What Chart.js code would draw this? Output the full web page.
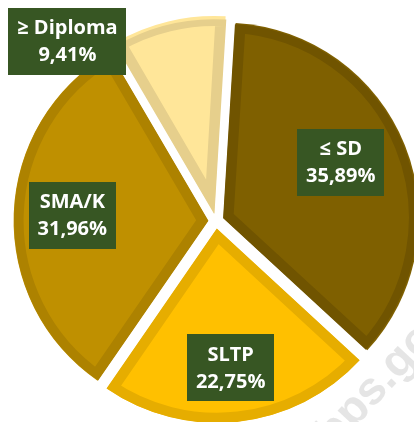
<!DOCTYPE html>
<html>
<head>
<meta charset="utf-8">
<script src="https://cdn.jsdelivr.net/npm/chart.js@4.4.1/dist/chart.umd.min.js"></script>
<style>
  html, body { margin: 0; padding: 0; background: #ffffff; }
  #wrap { position: relative; width: 414px; height: 422px; overflow: hidden; }
</style>
</head>
<body>
<div id="wrap"><canvas id="c"></canvas></div>
<script>
// ---- data ----
const categories = ['≤ SD', 'SLTP', 'SMA/K', '≥ Diploma'];
const percentages = [35.89, 22.75, 31.96, 9.41];
const valueLabels = ['35,89%', '22,75%', '31,96%', '9,41%'];

// ---- styles ----
const fillColors = ['#7f6000', '#ffc000', '#bf9000', '#ffe699'];
const borderColors = ['#705400', '#e6ad00', '#ad8200', '#e6cf8c'];
// label placement: angle shift (deg) from slice mid-angle and distance as fraction of radius
const labelPlacement = [
  { shift: -3.6, frac: 0.67 },
  { shift: 0.7, frac: 0.72 },
  { shift: 0.2, frac: 0.70 },
  { shift: -27, frac: 1.166 }
];

const watermark = {
  id: 'watermark',
  beforeDatasetsDraw(chart) {
    const ctx = chart.ctx;
    ctx.save();
    ctx.translate(334, 450);
    ctx.rotate(-47 * Math.PI / 180);
    ctx.font = 'bold 46px "Liberation Sans", Arial, sans-serif';
    ctx.fillStyle = 'rgba(170,170,170,0.3)';
    ctx.textBaseline = 'alphabetic';
    ctx.fillText('bps.go.id', 0, 0);
    ctx.restore();
  }
};

const boxLabels = {
  id: 'boxLabels',
  afterDatasetsDraw(chart) {
    const ctx = chart.ctx;
    const meta = chart.getDatasetMeta(0);
    const offset = chart.data.datasets[0].offset / 4;
    ctx.save();
    ctx.font = 'bold 20px "Open Sans", sans-serif';
    ctx.textAlign = 'center';
    ctx.textBaseline = 'middle';
    meta.data.forEach((arc, i) => {
      const p = arc.getProps(['x', 'y', 'startAngle', 'endAngle', 'outerRadius'], true);
      const mid = (p.startAngle + p.endAngle) / 2;
      const ax = p.x + Math.cos(mid) * offset;
      const ay = p.y + Math.sin(mid) * offset;
      const pl = labelPlacement[i];
      const ang = mid + pl.shift * Math.PI / 180;
      const cx = ax + Math.cos(ang) * p.outerRadius * pl.frac;
      const cy = ay + Math.sin(ang) * p.outerRadius * pl.frac;
      const l1 = categories[i], l2 = valueLabels[i];
      const w = Math.max(ctx.measureText(l1).width, ctx.measureText(l2).width) + 18;
      const h = 67;
      ctx.fillStyle = '#375623';
      ctx.fillRect(Math.round(cx - w / 2), Math.round(cy - h / 2), Math.round(w), h);
      ctx.fillStyle = '#ffffff';
      ctx.fillText(l1, cx, cy - 13);
      ctx.fillText(l2, cx, cy + 14);
    });
    ctx.restore();
  }
};

new Chart(document.getElementById('c'), {
  type: 'pie',
  data: {
    labels: categories,
    datasets: [{
      data: percentages,
      backgroundColor: fillColors,
      borderColor: borderColors,
      borderWidth: 10,
      borderAlign: 'inner',
      borderJoinStyle: 'miter',
      offset: 32,
      hoverOffset: 0
    }]
  },
  options: {
    responsive: true,
    maintainAspectRatio: false,
    animation: false,
    events: [],
    rotation: 3.5,
    radius: 194,
    layout: { padding: { left: 18, top: 20, right: 0, bottom: 0 } },
    plugins: {
      legend: { display: false },
      tooltip: { enabled: false }
    }
  },
  plugins: [watermark, boxLabels]
});
</script>
</body>
</html>
